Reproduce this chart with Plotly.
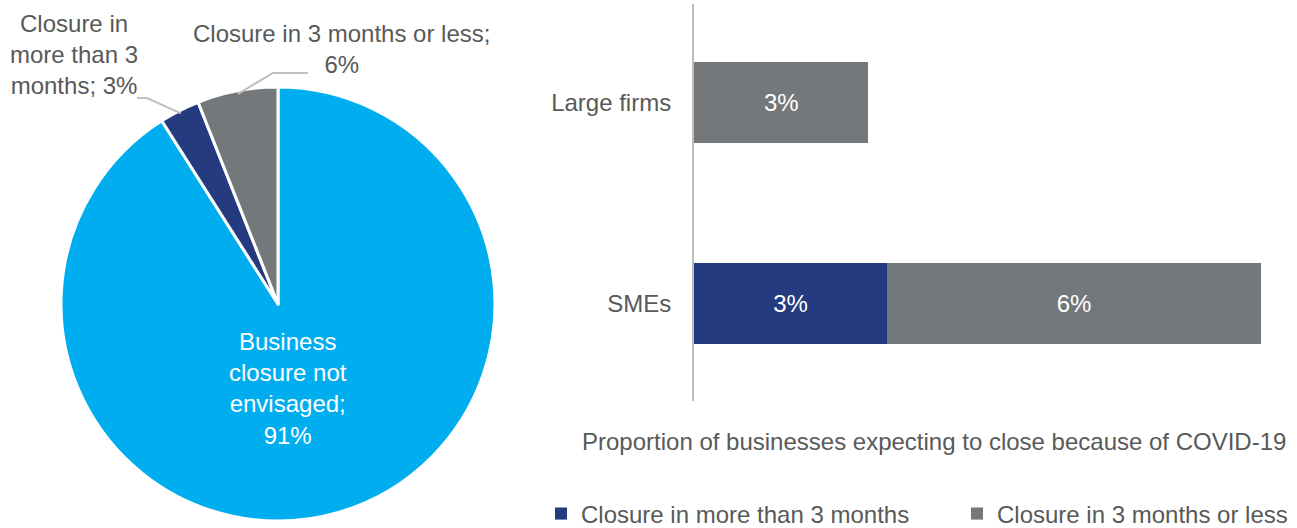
import math
import plotly.graph_objects as go

# Pie: expected closure of all businesses
pie_labels = ["Business closure not envisaged", "Closure in more than 3 months", "Closure in 3 months or less"]
pie_values = [91, 3, 6]
pie_colors = ["#00AEEF", "#243B7F", "#75787B"]

# Bars: expected closure by firm size
firm_sizes = ["SMEs", "Large firms"]
more_than_3m = [3.1, 0]
three_m_or_less = [6.0, 2.8]
bar_series = ["Closure in more than 3 months", "Closure in 3 months or less"]

W, H = 1297, 528
TEXT = "#595959"
FONT = "Liberation Sans, Arial, sans-serif"
FS = 24


def px(x):
    return x / W


def py(y):
    return 1 - y / H


# pie geometry (pixels)
cx, cy, r = 278, 304, 217

fig = go.Figure()

fig.add_trace(go.Pie(
    labels=pie_labels, values=pie_values, sort=False, direction="clockwise", rotation=0,
    marker=dict(colors=pie_colors, line=dict(color="white", width=3)),
    textinfo="none", hoverinfo="label+percent", showlegend=False,
    domain=dict(x=[px(cx - r), px(cx + r)], y=[py(cy + r), py(cy - r)]),
))

fig.add_trace(go.Bar(
    y=firm_sizes, x=more_than_3m, orientation="h", name=bar_series[0],
    marker=dict(color=pie_colors[1], line=dict(width=0)),
    text=[f"{v:.0f}%" if v > 0 else "" for v in more_than_3m],
    textposition="inside", insidetextanchor="middle", textangle=0,
    textfont=dict(color="white", size=FS, family=FONT),
    legend="legend",
))
fig.add_trace(go.Bar(
    y=firm_sizes, x=three_m_or_less, orientation="h", name=bar_series[1],
    marker=dict(color=pie_colors[2], line=dict(width=0)),
    text=[f"{v:.0f}%" for v in three_m_or_less],
    textposition="inside", insidetextanchor="middle", textangle=0,
    textfont=dict(color="white", size=FS, family=FONT),
    legend="legend2",
))

# mid-angle of every slice (degrees from +x, counter-clockwise)
total = sum(pie_values)
mids = []
acc = 0
for v in pie_values:
    mid = 90 - 360 * (acc + v / 2) / total
    mids.append(math.radians(mid))
    acc += v


def note(x, y, text, color=TEXT):
    return dict(x=px(x), y=py(y), xref="paper", yref="paper", showarrow=False,
                xanchor="center", yanchor="middle", text=text, align="center",
                font=dict(color=color, size=FS, family=FONT))


annos = [
    note(288, 388, f"Business<br>closure not<br>envisaged;<br>{pie_values[0]}%", "white"),
    note(74, 55, f"Closure in<br>more than 3<br>months; {pie_values[1]}%"),
    note(341, 49, f"Closure in 3 months or less;<br>{pie_values[2]}%"),
    note(934, 441, "Proportion of businesses expecting to close because of COVID-19"),
]

shapes = []
# leader lines from slice edges to the outside labels
lead_col = "#BFBFBF"
a1 = mids[1]
sx1, sy1 = cx + (r - 3) * math.cos(a1), cy - (r - 3) * math.sin(a1)
shapes.append(dict(type="path", xref="paper", yref="paper",
                   path=f"M {px(sx1)} {py(sy1)} L {px(147)} {py(98)} L {px(137)} {py(98)}",
                   line=dict(color=lead_col, width=2)))
a2 = mids[2]
sx2, sy2 = cx + (r - 3) * math.cos(a2), cy - (r - 3) * math.sin(a2)
shapes.append(dict(type="path", xref="paper", yref="paper",
                   path=f"M {px(sx2)} {py(sy2)} L {px(273)} {py(73)} L {px(308)} {py(73)}",
                   line=dict(color=lead_col, width=2)))

legend_style = dict(orientation="h", yanchor="middle", y=py(514), xanchor="left",
                    font=dict(size=FS, color=TEXT, family=FONT), itemclick=False,
                    bgcolor="rgba(0,0,0,0)")

fig.update_layout(
    width=W, height=H, margin=dict(l=0, r=0, t=0, b=0, autoexpand=False),
    paper_bgcolor="white", plot_bgcolor="white",
    barmode="stack", bargap=0.6,
    font=dict(family=FONT, size=FS, color=TEXT),
    xaxis=dict(domain=[px(694), 1], range=[0, 603 / 62.3], visible=False, fixedrange=True),
    yaxis=dict(domain=[py(401), py(4)], range=[-0.485, 1.49], type="category",
               showline=True, linecolor="#BDBDBD", linewidth=2, ticks="",
               ticklabelstandoff=16, showgrid=False, zeroline=False,
               tickfont=dict(size=FS, color=TEXT, family=FONT)),
    legend=dict(x=px(541), **legend_style),
    legend2=dict(x=px(957), **legend_style),
    annotations=annos, shapes=shapes,
)

fig.write_html("out.html")
